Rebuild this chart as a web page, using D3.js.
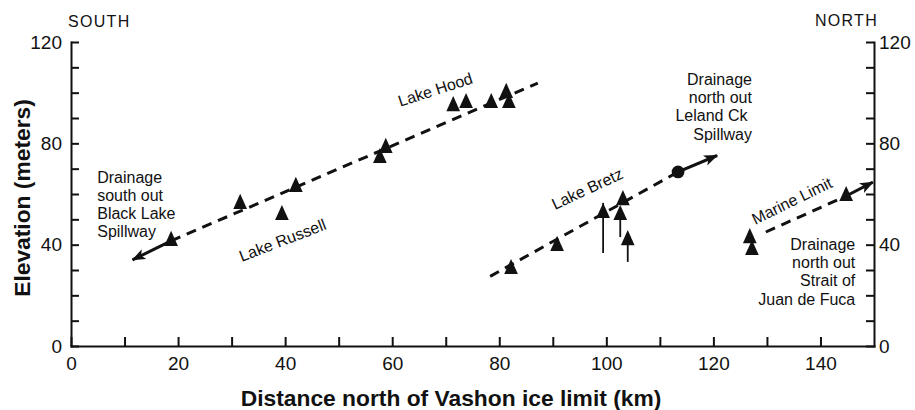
<!DOCTYPE html>
<html>
<head>
<meta charset="utf-8">
<script src="https://cdn.jsdelivr.net/npm/d3@7"></script>
<style>
  body { margin: 0; background: #fff; }
  svg { display: block; font-family: "Liberation Sans", Arial, Helvetica, sans-serif; }
  .axis path, .axis line { stroke: #111; stroke-width: 2; }
  .axis text { font-size: 19px; fill: #111; font-family: "Liberation Sans", Arial, sans-serif; }
  .note { font-size: 16px; fill: #111; }
  .title { font-size: 22.8px; font-weight: bold; fill: #111; }
</style>
</head>
<body>
<svg id="chart" width="915" height="410"></svg>
<script>
'use strict';

// tick labels
var xTicks = [0, 20, 40, 60, 80, 100, 120, 140];
var yTicks = [0, 40, 80, 120];

// triangles along the Lake Russell / Lake Hood trend
var hoodX = [18.7, 31.6, 39.4, 42.0, 57.7, 58.8, 71.4, 73.8, 78.5, 81.3, 81.8];
var hoodY = [41.5, 56.1, 51.7, 62.8, 74.2, 78.2, 94.7, 95.9, 95.9, 99.9, 95.9];

// triangles along the Lake Bretz trend, with lower whisker where drawn
var bretzX = [82.2, 90.8, 99.4, 102.6, 103.1, 104.0];
var bretzY = [30.4, 39.5, 52.5, 51.7, 57.6, 41.8];
var bretzLow = [null, null, 36.7, 43.0, null, 33.2];
var bretzHigh = [null, null, 56.5, null, null, null];

// Leland Ck spillway (circle)
var spillX = [113.4];
var spillY = [68.7];

// marine limit triangles
var marineX = [126.8, 127.2, 144.8];
var marineY = [42.6, 37.9, 59.2];

// trend lines: dashed part, then solid arrow part
var dashFromX = [18.7, 78.3, 129.8];
var dashFromY = [41.5, 27.5, 45.0];
var dashToX = [87.2, 113.4, 144.8];
var dashToY = [103.8, 68.7, 59.2];
var arrowFromX = [18.7, 113.4, 144.8];
var arrowFromY = [41.5, 68.7, 59.2];
var arrowToX = [11.5, 120.7, 149.8];
var arrowToY = [34.0, 75.2, 64.7];

// rotated lake labels
var lakeNames = ['Lake Hood', 'Lake Russell', 'Lake Bretz', 'Marine Limit'];
var lakeX = [61.5, 31.9, 90.4, 127.8];
var lakeY = [94.4, 33.2, 53.7, 47.8];
var lakeAngle = [-18, -21, -25, -26];

var svg = d3.select('#chart');

var x = d3.scaleLinear().domain([0, 150]).range([71, 874]);
var y = d3.scaleLinear().domain([0, 120]).range([346, 42]);

var minorX = d3.range(0, 150, 10);
var minorY = d3.range(0, 121, 10);

svg.append('g')
	.attr('class', 'axis')
	.attr('transform', 'translate(0,' + y(0) + ')')
	.call(d3.axisBottom(x).tickValues(minorX).tickSize(-9).tickSizeOuter(0).tickPadding(11)
		.tickFormat(function(d) { return xTicks.indexOf(d) >= 0 ? d : ''; }));

svg.append('g')
	.attr('class', 'axis')
	.attr('transform', 'translate(' + x(0) + ',0)')
	.call(d3.axisLeft(y).tickValues(minorY).tickSize(-8).tickSizeOuter(0).tickPadding(9)
		.tickFormat(function(d) { return yTicks.indexOf(d) >= 0 ? d : ''; }));

svg.append('g')
	.attr('class', 'axis')
	.attr('transform', 'translate(' + x(150) + ',0)')
	.call(d3.axisRight(y).tickValues(minorY).tickSize(-8).tickSizeOuter(0).tickPadding(5)
		.tickFormat(function(d) { return yTicks.indexOf(d) >= 0 ? d : ''; }));

svg.selectAll('.axis .domain').attr('stroke-linecap', 'square');

// arrow head
svg.append('defs').append('marker')
	.attr('id', 'head')
	.attr('markerUnits', 'userSpaceOnUse')
	.attr('viewBox', '0 0 14 11')
	.attr('refX', 13).attr('refY', 5.5)
	.attr('markerWidth', 14).attr('markerHeight', 11)
	.attr('orient', 'auto')
	.append('path')
	.attr('d', 'M0,0L14,5.5L0,11L3.5,5.5Z')
	.attr('fill', '#111');

var lines = svg.append('g');
lines.selectAll('line.dash')
	.data(dashFromX)
	.enter().append('line')
	.attr('class', 'dash')
	.attr('x1', function(d, i) { return x(dashFromX[i]); })
	.attr('y1', function(d, i) { return y(dashFromY[i]); })
	.attr('x2', function(d, i) { return x(dashToX[i]); })
	.attr('y2', function(d, i) { return y(dashToY[i]); })
	.attr('stroke', '#111')
	.attr('stroke-width', 3)
	.attr('stroke-dasharray', '10,7');

lines.selectAll('line.arrow')
	.data(arrowFromX)
	.enter().append('line')
	.attr('class', 'arrow')
	.attr('x1', function(d, i) { return x(arrowFromX[i]); })
	.attr('y1', function(d, i) { return y(arrowFromY[i]); })
	.attr('x2', function(d, i) { return x(arrowToX[i]); })
	.attr('y2', function(d, i) { return y(arrowToY[i]); })
	.attr('stroke', '#111')
	.attr('stroke-width', 3)
	.attr('marker-end', 'url(#head)');

// whiskers
var whisk = svg.append('g').attr('stroke', '#111').attr('stroke-width', 1.8);
bretzX.forEach(function(d, i) {
	if (bretzLow[i] === null) return;
	whisk.append('line')
		.attr('x1', x(d)).attr('x2', x(d))
		.attr('y1', y(bretzHigh[i] === null ? bretzY[i] : bretzHigh[i]))
		.attr('y2', y(bretzLow[i]));
});

// triangles
var tri = d3.symbol().type(d3.symbolTriangle).size(100);
var triX = hoodX.concat(bretzX, marineX);
var triY = hoodY.concat(bretzY, marineY);

svg.append('g')
	.selectAll('path')
	.data(triX)
	.enter().append('path')
	.attr('d', tri)
	.attr('transform', function(d, i) {
		return 'translate(' + x(d) + ',' + y(triY[i]) + ') scale(0.9,1.15)';
	})
	.attr('fill', '#111');

svg.append('g')
	.selectAll('circle')
	.data(spillX)
	.enter().append('circle')
	.attr('cx', function(d) { return x(d); })
	.attr('cy', function(d, i) { return y(spillY[i]); })
	.attr('r', 6.4)
	.attr('fill', '#111');

// rotated lake labels
svg.append('g')
	.selectAll('text')
	.data(lakeNames)
	.enter().append('text')
	.attr('class', 'note')
	.attr('font-size', '15px')
	.attr('transform', function(d, i) {
		return 'translate(' + x(lakeX[i]) + ',' + y(lakeY[i]) + ') rotate(' + lakeAngle[i] + ')';
	})
	.text(function(d) { return d; });

// drainage notes
function note(lines, px, py, anchor) {
	var t = svg.append('text')
		.attr('class', 'note')
		.attr('text-anchor', anchor)
		.attr('x', px).attr('y', py);
	lines.forEach(function(s, i) {
		t.append('tspan').attr('x', px).attr('dy', i === 0 ? 0 : 18.2).text(s);
	});
}
note(['Drainage', 'south out', 'Black Lake', 'Spillway'], x(4.9), y(64.4), 'start');
note(['Drainage', 'north out', 'Leland Ck\u00a0', 'Spillway'], x(127.2), y(103), 'end');
note(['Drainage', 'north out', 'Strait of', 'Juan de Fuca'], x(146.5), y(37.9), 'end');

svg.append('text').attr('class', 'note').attr('font-size', '18px')
	.attr('letter-spacing', '1.3px')
	.attr('x', 68).attr('y', 27).text('SOUTH');
svg.append('text').attr('class', 'note').attr('font-size', '18px')
	.attr('letter-spacing', '1.3px')
	.attr('text-anchor', 'end').attr('x', 878).attr('y', 26).text('NORTH');

svg.append('text')
	.attr('class', 'title')
	.attr('text-anchor', 'middle')
	.attr('x', 451).attr('y', 406)
	.text('Distance north of Vashon ice limit (km)');

svg.append('text')
	.attr('class', 'title')
	.attr('text-anchor', 'middle')
	.attr('transform', 'translate(30,198) rotate(-90)')
	.text('Elevation (meters)');
</script>
</body>
</html>
